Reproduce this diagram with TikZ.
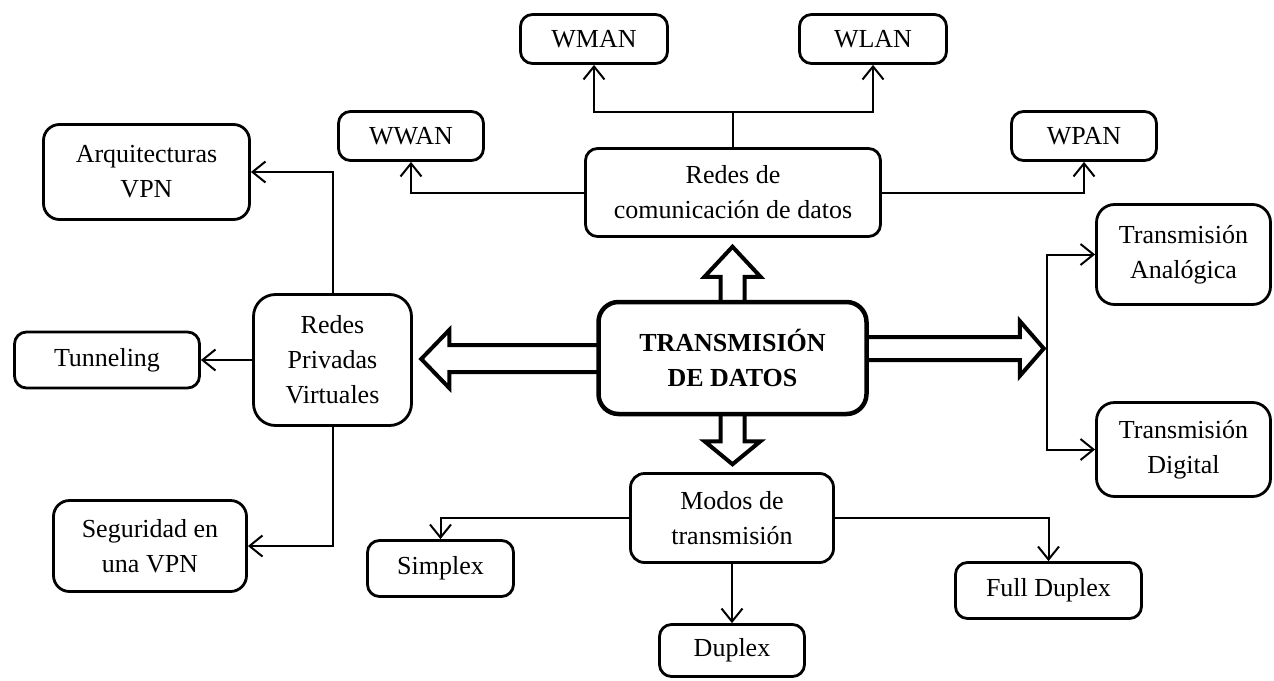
\documentclass[tikz,border=0pt]{standalone}
\usepackage{fontspec}
\setmainfont{Liberation Serif}
\usetikzlibrary{arrows.meta,calc}
\begin{document}
\begin{tikzpicture}[x=1pt,y=-1pt,
  box/.style={draw, line width=2.8pt, rounded corners=12pt, align=center, inner sep=0pt,
              font=\fontsize{26}{35}\selectfont},
  conn/.style={line width=2pt},
  arr/.style={conn, -{Straight Barb[length=13pt,width=21pt]}},
  big/.style={line width=4pt, line join=miter}]
\useasboundingbox (0,0) rectangle (1274,680);

% nodes
\node[box, minimum width=147pt, minimum height=49pt] (wman) at (594,39) {WMAN};
\node[box, minimum width=147pt, minimum height=49pt] (wlan) at (873,39) {WLAN};
\node[box, minimum width=145pt, minimum height=49pt] (wwan) at (411,136) {WWAN};
\node[box, minimum width=145pt, minimum height=49pt] (wpan) at (1084,136) {WPAN};
\node[box, minimum width=295pt, minimum height=88pt] (redes) at (733,192.5) {Redes de\\comunicación de datos};
\node[box, rounded corners=16pt, minimum width=206pt, minimum height=95pt] (arq) at (146.5,172) {Arquitecturas\\VPN};
\node[box, rounded corners=22pt, minimum width=158pt, minimum height=131pt] (rpv) at (332.5,360) {Redes\\Privadas\\Virtuales};
\node[box, minimum width=185pt, minimum height=56pt] (tun) at (107,360) {Tunneling};
\node[box, rounded corners=16pt, minimum width=193pt, minimum height=91pt] (seg) at (150,546) {Seguridad en\\una VPN};
\node[box, line width=4.5pt, rounded corners=20pt, minimum width=268pt, minimum height=112pt,
      font=\fontsize{26}{35}\selectfont\bfseries] (td) at (732.5,358) {TRANSMISIÓN\\DE DATOS};
\node[box, rounded corners=18pt, minimum width=174pt, minimum height=100pt] (ana) at (1183.5,254.5) {Transmisión\\Analógica};
\node[box, rounded corners=18pt, minimum width=174pt, minimum height=94pt] (dig) at (1183.5,449.5) {Transmisión\\Digital};
\node[box, rounded corners=14pt, minimum width=203pt, minimum height=89pt] (modos) at (732,518) {Modos de\\transmisión};
\node[box, minimum width=146pt, minimum height=56pt] (simplex) at (440.5,568.5) {Simplex};
\node[box, minimum width=145pt, minimum height=52pt] (duplex) at (732,650.5) {Duplex};
\node[box, minimum width=186pt, minimum height=56pt] (full) at (1048.5,590.5) {Full Duplex};

% top connectors
\path (redes.north) ++(0,-35) coordinate (jt);
\draw[conn] (redes.north) -- (jt);
\draw[arr] (jt) -| (wman.south);
\draw[arr] (jt) -| (wlan.south);
\draw[arr] (redes.west) -| (wwan.south);
\draw[arr] (redes.east) -| (wpan.south);

% left connectors
\draw[arr] (rpv.north) |- (arq.east);
\draw[arr] (rpv.west) -- (tun.east);
\draw[arr] (rpv.south) |- (seg.east);

% bottom connectors
\draw[arr] (modos.west) -| (simplex.north);
\draw[arr] (modos.east) -| (full.north);
\draw[arr] (modos.south) -- (duplex.north);

% right connectors
\coordinate (jr) at (1047,348.5);
\draw[arr] (jr) |- (ana.west);
\draw[arr] (jr) |- (dig.west);

% big hollow arrows
\draw[big] ($(td.north)+(-12,2)$) -- ($(td.north)+(-12,-23)$) -- ($(td.north)+(-28,-23)$)
  -- ($(td.north)+(0,-53)$) -- ($(td.north)+(28,-23)$) -- ($(td.north)+(12,-23)$) -- ($(td.north)+(12,2)$);
\draw[big] ($(td.south)+(-12,-2)$) -- ($(td.south)+(-12,25)$) -- ($(td.south)+(-28,25)$)
  -- ($(td.south)+(0,48)$) -- ($(td.south)+(28,25)$) -- ($(td.south)+(12,25)$) -- ($(td.south)+(12,-2)$);
\draw[big] ($(td.west)+(2,-13)$) -- ($(td.west)+(-147,-13)$) -- ($(td.west)+(-147,-28)$)
  -- ($(td.west)+(-175,1)$) -- ($(td.west)+(-147,30)$) -- ($(td.west)+(-147,14)$) -- ($(td.west)+(2,14)$);
\draw[big] ($(td.east)+(-2,-21)$) -- ($(td.east)+(151,-21)$) -- ($(td.east)+(151,-37)$)
  -- ($(td.east)+(175,-9.5)$) -- ($(td.east)+(151,18)$) -- ($(td.east)+(151,2)$) -- ($(td.east)+(-2,2)$);
\end{tikzpicture}
\end{document}
